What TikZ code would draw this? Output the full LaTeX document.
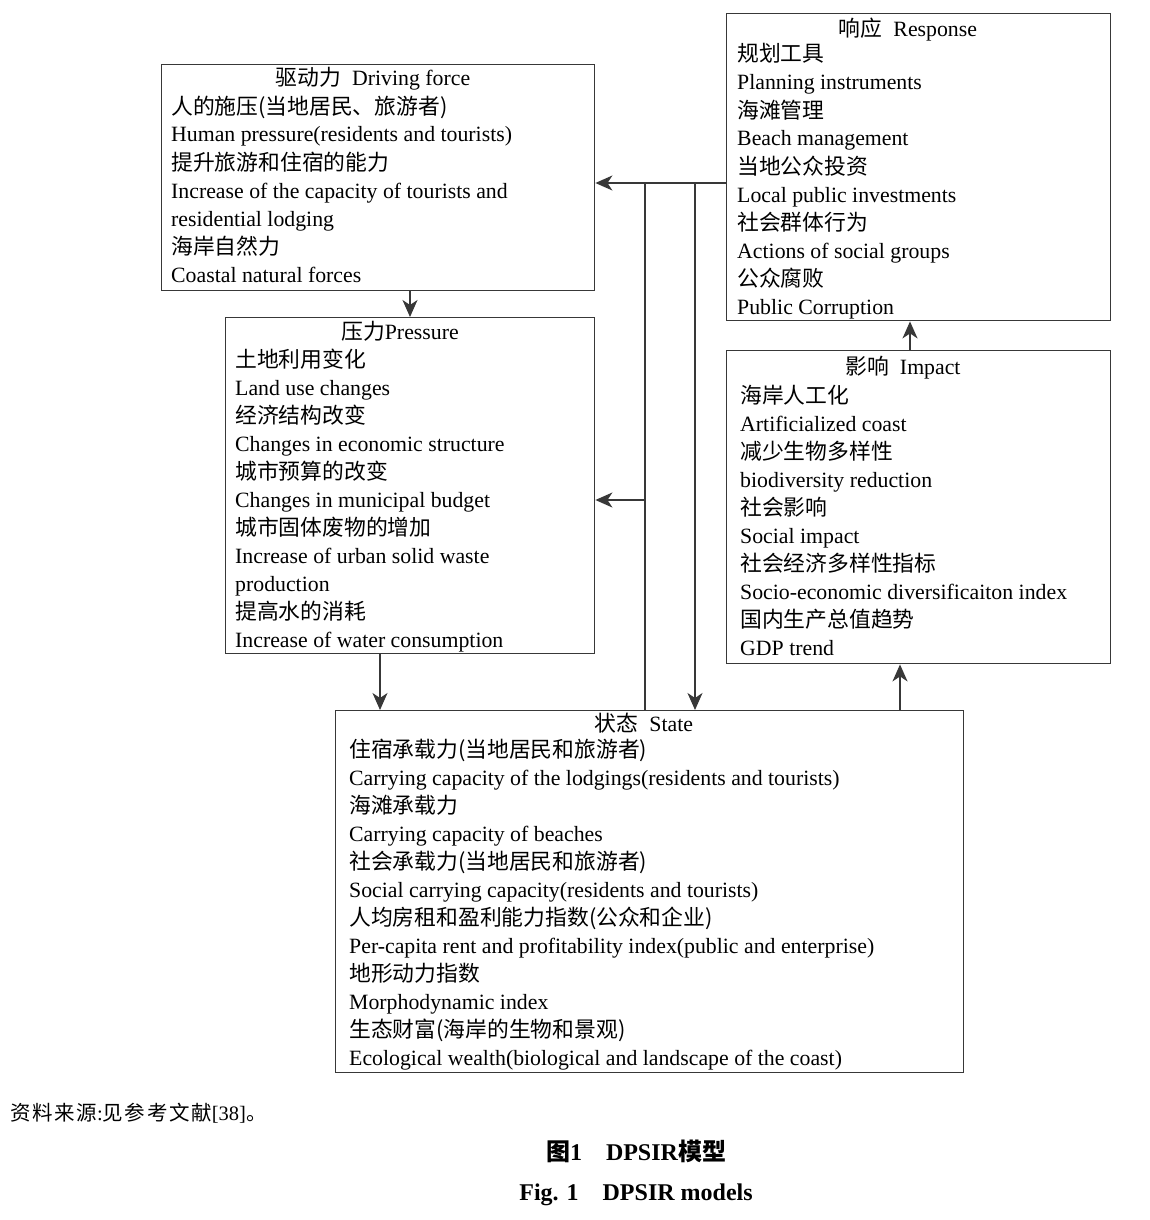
\documentclass[tikz,border=0pt]{standalone}
\usepackage{fontspec}
\setmainfont{Liberation Serif}
\newfontfamily\cjk{Noto Sans CJK SC}
\newfontfamily\cjkwide[LetterSpace=8]{Noto Sans CJK SC}
\usetikzlibrary{arrows.meta}
\definecolor{lncol}{HTML}{383838}
\tikzset{
 box/.style={draw=lncol,line width=1.4pt,anchor=north west,inner sep=0pt},
 txt/.style={anchor=base west,inner sep=0pt,font=\fontsize{21.8}{24}\selectfont},
 ttl/.style={anchor=base,inner sep=0pt,font=\fontsize{21.8}{24}\selectfont},
 captxt/.style={anchor=base,inner sep=0pt,font=\fontsize{24}{26}\selectfont\bfseries},
 arr/.style={draw=lncol,line width=1.4pt,-{Stealth[length=17pt,width=15pt,inset=5pt]}},
 wire/.style={draw=lncol,line width=1.4pt}
}
\newcommand\BoxLines[3]{\foreach \t [count=\i from 0] in {#3} \node[txt] at (#1,{#2+28*\i}) {\t};}
\begin{document}
\begin{tikzpicture}[x=1pt,y=-1pt]
\useasboundingbox[fill=white] (0,0) rectangle (1150,1220);
% boxes
\node[box,minimum width=433pt,minimum height=226pt] (drv) at (161,64) {};
\node[box,minimum width=369pt,minimum height=336pt] (prs) at (225,317) {};
\node[box,minimum width=384pt,minimum height=307pt] (rsp) at (726,13) {};
\node[box,minimum width=384pt,minimum height=313pt] (imp) at (726,350) {};
\node[box,minimum width=628pt,minimum height=362pt] (sta) at (335,710) {};
% titles
\node[ttl] (drvt) at (373,86) {{\cjk 驱动力}\ \ Driving force};
\node[ttl] (prst) at (400,339) {{\cjk 压力}Pressure};
\node[ttl] (rspt) at (908,37) {{\cjk 响应}\ \ Response};
\node[ttl] (impt) at (903,374) {{\cjk 影响}\ \ Impact};
\node[ttl] (stat) at (644,731) {{\cjk 状态}\ \ State};
% contents
\BoxLines{171}{114}{{\cjk 人的施压(当地居民、旅游者)},{Human pressure(residents and tourists)},{\cjk 提升旅游和住宿的能力},{Increase of the capacity of tourists and},{residential lodging},{\cjk 海岸自然力},{Coastal natural forces}}
\BoxLines{235}{367}{{\cjk 土地利用变化},{Land use changes},{\cjk 经济结构改变},{Changes in economic structure},{\cjk 城市预算的改变},{Changes in municipal budget},{\cjk 城市固体废物的增加},{Increase of urban solid waste},{production},{\cjk 提高水的消耗},{Increase of water consumption}}
\BoxLines{737}{62}{{\cjk 规划工具},{Planning instruments},{\cjk 海滩管理},{Beach management},{\cjk 当地公众投资},{Local public investments},{\cjk 社会群体行为},{Actions of social groups},{\cjk 公众腐败},{Public Corruption}}
\BoxLines{740}{403}{{\cjk 海岸人工化},{Artificialized coast},{\cjk 减少生物多样性},{biodiversity reduction},{\cjk 社会影响},{Social impact},{\cjk 社会经济多样性指标},{Socio-economic diversificaiton index},{\cjk 国内生产总值趋势},{GDP trend}}
\BoxLines{349}{757}{{\cjk 住宿承载力(当地居民和旅游者)},{Carrying capacity of the lodgings(residents and tourists)},{\cjk 海滩承载力},{Carrying capacity of beaches},{\cjk 社会承载力(当地居民和旅游者)},{Social carrying capacity(residents and tourists)},{\cjk 人均房租和盈利能力指数(公众和企业)},{Per-capita rent and profitability index(public and enterprise)},{\cjk 地形动力指数},{Morphodynamic index},{\cjk 生态财富(海岸的生物和景观)},{Ecological wealth(biological and landscape of the coast)}}
% junction coordinates
\coordinate (rj) at (rsp.west |- 0,183);
\coordinate (ja) at (645,183);
\coordinate (jb) at (695,183);
\coordinate (jc) at (645,500);
% connectors
\draw[arr] (rj) -- (drv.east |- rj);
\draw[wire] (sta.north -| ja) -- (ja);
\draw[arr] (jc) -- (prs.east |- jc);
\draw[arr] (jb) -- (sta.north -| jb);
\draw[arr] (drv.south -| 410,0) -- (prs.north -| 410,0);
\draw[arr] (prs.south -| 380,0) -- (sta.north -| 380,0);
\draw[arr] (sta.north -| 900,0) -- (imp.south -| 900,0);
\draw[arr] (imp.north -| 910,0) -- (rsp.south -| 910,0);
% footer and caption
\node[anchor=base west,inner sep=0pt,font=\fontsize{20.5}{22}\selectfont] (src) at (10,1120) {{\cjkwide 资料来源}:{\cjkwide 见参考文献}[38]{\cjk 。}};
\node[captxt] (cap1) at (636,1160) {{\cjk\bfseries 图}1\quad DPSIR{\cjk\bfseries 模型}};
\node[captxt] (cap2) at (636,1200) {Fig. 1\quad DPSIR models};
\end{tikzpicture}
\end{document}
